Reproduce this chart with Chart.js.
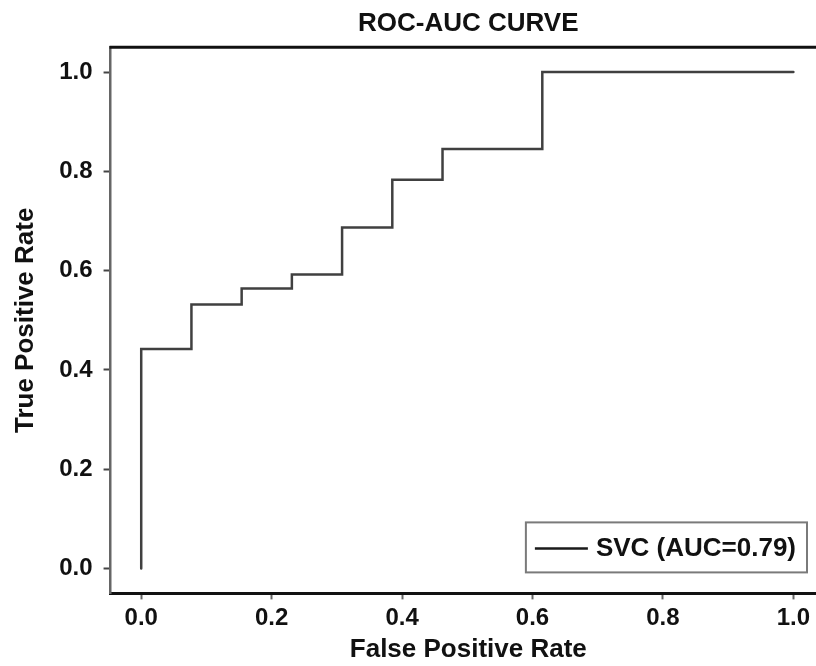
<!DOCTYPE html>
<html>
<head>
<meta charset="utf-8">
<script src="https://cdn.jsdelivr.net/npm/chart.js@4/dist/chart.umd.min.js"></script>
<style>
html,body{margin:0;padding:0;overflow:hidden;background:#fff}
#wrap{width:828px;height:666px;position:relative}
</style>
</head>
<body>
<div id="wrap"><canvas id="c"></canvas></div>
<script>
const chartTitle = 'ROC-AUC CURVE';
const seriesLabel = 'SVC (AUC=0.79)';
const xTitle = 'False Positive Rate';
const yTitle = 'True Positive Rate';
const fpr = [0, 0, 0.077, 0.077, 0.154, 0.154, 0.231, 0.231, 0.308, 0.308, 0.385, 0.385, 0.462, 0.462, 0.615, 0.615, 1.0];
const tpr = [0, 0.442, 0.442, 0.532, 0.532, 0.564, 0.564, 0.592, 0.592, 0.687, 0.687, 0.783, 0.783, 0.845, 0.845, 1.0, 1.0];
const xTicks = [0.0, 0.2, 0.4, 0.6, 0.8, 1.0];
const yTicks = [0.0, 0.2, 0.4, 0.6, 0.8, 1.0];
const xRange = [-0.047, 1.05];
const yRange = [-0.05, 1.05];

const FONT = '"Liberation Sans", Arial, Helvetica, sans-serif';

const points = fpr.map((x, i) => ({x: x, y: tpr[i]}));

const topFrame = {
  id: 'topFrame',
  afterDraw(chart) {
    const a = chart.chartArea, ctx = chart.ctx;
    ctx.save();
    ctx.strokeStyle = '#111';
    ctx.lineWidth = 3;
    ctx.beginPath();
    ctx.moveTo(a.left - 1, a.top);
    ctx.lineTo(a.right + 2, a.top);
    ctx.stroke();
    ctx.restore();
  }
};

const boxLegend = {
  id: 'boxLegend',
  afterDraw(chart) {
    const a = chart.chartArea, ctx = chart.ctx;
    const ds = chart.data.datasets[0];
    ctx.save();
    ctx.font = 'bold 26px ' + FONT;
    const tw = ctx.measureText(ds.label).width;
    const padL = 9, lineLen = 53, gap = 8, padR = 11, h = 50;
    const w = padL + lineLen + gap + tw + padR;
    const right = a.right - 19, bottom = a.bottom - 21;
    const left = right - w, top = bottom - h;
    ctx.fillStyle = '#fff';
    ctx.fillRect(left, top, w, h);
    ctx.strokeStyle = '#7a7a7a';
    ctx.lineWidth = 2;
    ctx.strokeRect(left, top, w, h);
    const cy = top + h / 2 + 1;
    ctx.strokeStyle = '#1a1a1a';
    ctx.lineWidth = 2.5;
    ctx.beginPath();
    ctx.moveTo(left + padL, cy);
    ctx.lineTo(left + padL + lineLen, cy);
    ctx.stroke();
    ctx.fillStyle = '#111';
    ctx.textBaseline = 'middle';
    ctx.textAlign = 'left';
    ctx.fillText(ds.label, left + padL + lineLen + gap, cy);
    ctx.restore();
  }
};

new Chart(document.getElementById('c'), {
  type: 'scatter',
  data: {
    datasets: [{
      label: seriesLabel,
      data: points,
      showLine: true,
      borderColor: '#404040',
      borderWidth: 2.5,
      borderCapStyle: 'round',
      borderJoinStyle: 'miter',
      pointRadius: 0,
      fill: false,
      tension: 0
    }]
  },
  options: {
    responsive: true,
    maintainAspectRatio: false,
    animation: false,
    layout: {padding: {left: 0, right: 2, top: 0, bottom: 0}},
    plugins: {
      legend: {display: false},
      tooltip: {enabled: false},
      title: {
        display: true,
        text: chartTitle,
        fullSize: false,
        color: '#111',
        font: {family: FONT, size: 26, weight: 'bold', lineHeight: 1.2},
        padding: {top: 8, bottom: 8}
      }
    },
    scales: {
      x: {
        type: 'linear',
        min: xRange[0],
        max: xRange[1],
        afterBuildTicks: s => { s.ticks = xTicks.map(v => ({value: v})); },
        border: {display: true, color: '#111', width: 3},
        grid: {drawOnChartArea: false, drawTicks: true, tickLength: 6, tickColor: '#666', tickWidth: 2},
        ticks: {
          color: '#111',
          padding: 5,
          font: {family: FONT, size: 24, weight: 'bold', lineHeight: 1.15},
          callback: v => Number(v).toFixed(1),
          maxRotation: 0
        },
        title: {
          display: true,
          text: xTitle,
          color: '#111',
          font: {family: FONT, size: 26, weight: 'bold', lineHeight: 1.0},
          padding: {top: 0, bottom: 3}
        }
      },
      y: {
        type: 'linear',
        min: yRange[0],
        max: yRange[1],
        afterBuildTicks: s => { s.ticks = yTicks.map(v => ({value: v})); },
        border: {display: true, color: '#666', width: 2.5},
        grid: {drawOnChartArea: false, drawTicks: true, tickLength: 7, tickColor: '#444', tickWidth: 2},
        ticks: {
          color: '#111',
          padding: 11,
          font: {family: FONT, size: 24, weight: 'bold', lineHeight: 1.2},
          callback: v => Number(v).toFixed(1)
        },
        title: {
          display: true,
          text: yTitle,
          color: '#111',
          font: {family: FONT, size: 26, weight: 'bold', lineHeight: 1.2},
          padding: {top: 10, bottom: 7}
        }
      }
    }
  },
  plugins: [topFrame, boxLegend]
});
</script>
</body>
</html>
